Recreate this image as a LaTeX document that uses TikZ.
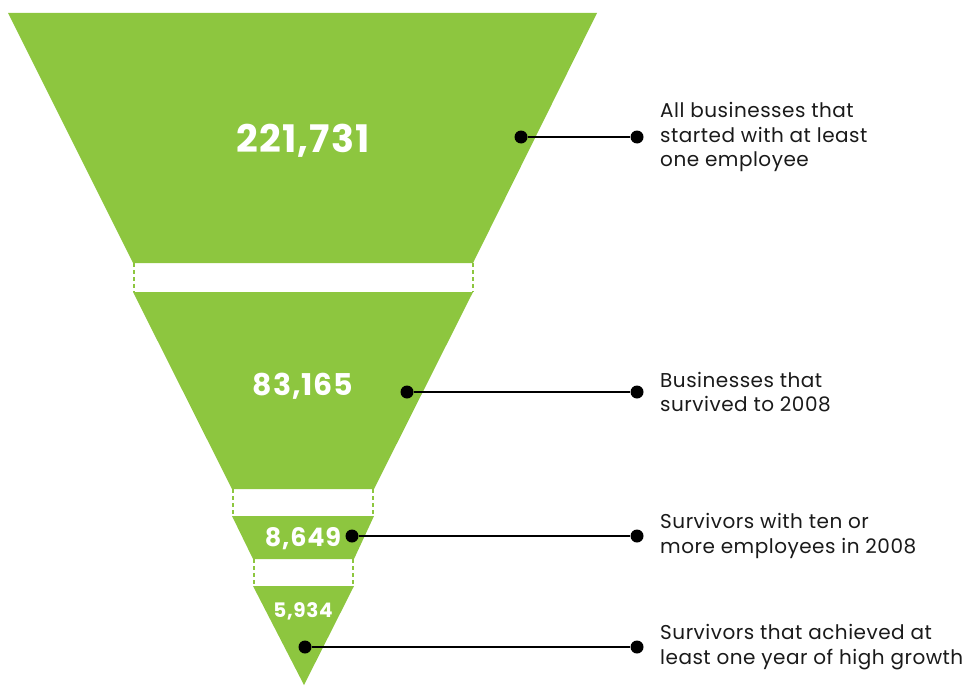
\documentclass[tikz,border=0pt]{standalone}
\usepackage{fontspec}
\setmainfont{Poppins}
\newfontfamily\lblfont[LetterSpace=2.5]{Poppins}
\newfontfamily\numfont[LetterSpace=3]{Poppins}
\definecolor{fgreen}{HTML}{8DC63F}
\definecolor{ink}{HTML}{1A1A1A}
\begin{document}
\begin{tikzpicture}[x=1pt,y=-1pt,
  sect/.style={fill=fgreen, draw=none},
  gapline/.style={draw=fgreen, line width=2pt, dash pattern=on 4pt off 3pt},
  num/.style={text=white, anchor=base, inner sep=0pt},
  dotn/.style={circle, fill=black, minimum size=13pt, inner sep=0pt},
  conn/.style={draw=black, line width=2.5pt},
  lbl/.style={text=ink, anchor=west, align=left, inner sep=0pt, font=\lblfont\fontsize{20}{24.5}\selectfont}]
\useasboundingbox (0,0) rectangle (973,685);
% funnel sections
\fill[sect] (8,13) -- (597,13) -- (473,263) -- (133,263) -- cycle;
\fill[sect] (133,292) -- (473,292) -- (374,489) -- (232,489) -- cycle;
\fill[sect] (232,516) -- (374,516) -- (354,559) -- (253,559) -- cycle;
\fill[sect] (253,586) -- (354,586) -- (304,685) -- cycle;
% gaps
\draw[gapline] (133.5,263) -- (133.5,292);
\draw[gapline] (472.5,263) -- (472.5,292);
\draw[gapline] (233,489) -- (233,516);
\draw[gapline] (373,489) -- (373,516);
\draw[gapline] (254,559) -- (254,586);
\draw[gapline] (353,559) -- (353,586);
% numbers
\node[num, font=\numfont\bfseries\fontsize{38}{38}\selectfont] (n1) at (303,152) {221,731};
\node[num, font=\numfont\bfseries\fontsize{30}{30}\selectfont] (n2) at (303,395) {83,165};
\node[num, font=\numfont\bfseries\fontsize{25.5}{25.5}\selectfont] (n3) at (303,546) {8,649};
\node[num, font=\numfont\bfseries\fontsize{20}{20}\selectfont] (n4) at (303,617) {5,934};
% dots
\node[dotn] (a1) at (521,137) {};
\node[dotn] (b1) at (637,137) {};
\node[dotn] (a2) at (407,392) {};
\node[dotn] (b2) at (637,392) {};
\node[dotn] (a3) at (352,536) {};
\node[dotn] (b3) at (637,536) {};
\node[dotn] (a4) at (305,647) {};
\node[dotn] (b4) at (637,647) {};
\draw[conn] (a1) -- (b1);
\draw[conn] (a2) -- (b2);
\draw[conn] (a3) -- (b3);
\draw[conn] (a4) -- (b4);
% labels
\node[lbl] (l1) at (660,137) {All businesses that\\started with at least\\one employee};
\node[lbl] (l2) at (660,392) {Businesses that\\survived to 2008};
\node[lbl] (l3) at (660,536) {Survivors with ten or\\more employees in 2008};
\node[lbl] (l4) at (660,647) {Survivors that achieved at\\least one year of high growth};
\end{tikzpicture}
\end{document}
